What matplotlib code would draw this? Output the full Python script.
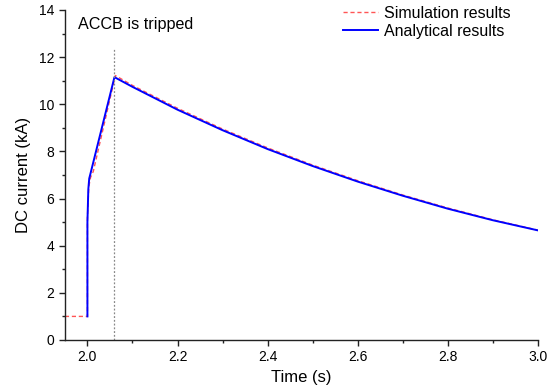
import numpy as np
import matplotlib
matplotlib.use('Agg')
import matplotlib.pyplot as plt
from matplotlib.ticker import MultipleLocator

plt.rcParams['font.family'] = ['Liberation Sans', 'DejaVu Sans']

# simulation results (kA vs s)
t_sim = [1.95, 2.0, 2.0, 2.003, 2.007, 2.013, 2.062, 2.1, 2.2, 2.3, 2.4, 2.5, 2.6, 2.7, 2.8, 2.9, 3.0]
i_sim = [1.0, 1.0, 5.2, 6.5, 6.9, 7.15, 11.22, 10.8, 9.83, 8.95, 8.15, 7.42, 6.76, 6.15, 5.6, 5.1, 4.66]

# analytical results
t_ana = [2.0, 2.0, 2.002, 2.004, 2.006, 2.06, 2.1, 2.2, 2.3, 2.4, 2.5, 2.6, 2.7, 2.8, 2.9, 3.0]
i_ana = [1.0, 5.0, 6.4, 6.85, 7.0, 11.15, 10.74, 9.77, 8.9, 8.1, 7.38, 6.72, 6.12, 5.57, 5.08, 4.65]

t_trip = 2.06

fig = plt.figure(figsize=(5.5, 3.92), dpi=100)
ax = fig.add_axes([0.118, 0.1327, 0.86, 0.8418])

ax.plot(t_sim, i_sim, color='#ff5555', lw=1.0, ls=(0, (3, 2)), label='Simulation results')
ax.plot(t_ana, i_ana, color='#0000ff', lw=1.4, label='Analytical results')
ax.vlines(t_trip, 0, 12.4, color='#888888', lw=0.9, ls=(0, (1.5, 1.5)))
ax.text(1.98, 13.4, 'ACCB is tripped', fontsize=11.6, va='center', ha='left')

ax.set_xlim(1.95, 3.0)
ax.set_ylim(0, 14)
ax.xaxis.set_major_locator(MultipleLocator(0.2))
ax.xaxis.set_minor_locator(MultipleLocator(0.1))
ax.yaxis.set_major_locator(MultipleLocator(2))
ax.yaxis.set_minor_locator(MultipleLocator(1))
ax.xaxis.set_major_formatter(matplotlib.ticker.FormatStrFormatter('%.1f'))
ax.tick_params(which='major', direction='out', length=4, width=1, labelsize=10, color='#222222')
ax.tick_params(which='minor', direction='out', length=2.5, width=1, color='#222222')
for s in ['top', 'right']:
    ax.spines[s].set_visible(False)
for s in ['left', 'bottom']:
    ax.spines[s].set_linewidth(1)
    ax.spines[s].set_color('#222222')

ax.set_xlabel('Time (s)', fontsize=12, labelpad=4)
ax.set_ylabel('DC current (kA)', fontsize=12, labelpad=6)

ax.legend(loc='upper left', bbox_to_anchor=(343 / 550, 1 - 5.5 / 392), bbox_transform=fig.transFigure,
          frameon=False, fontsize=11.5, borderpad=0, borderaxespad=0,
          handlelength=2.2, handletextpad=0.35, labelspacing=0.22)

fig.savefig('out.png', dpi=100)
